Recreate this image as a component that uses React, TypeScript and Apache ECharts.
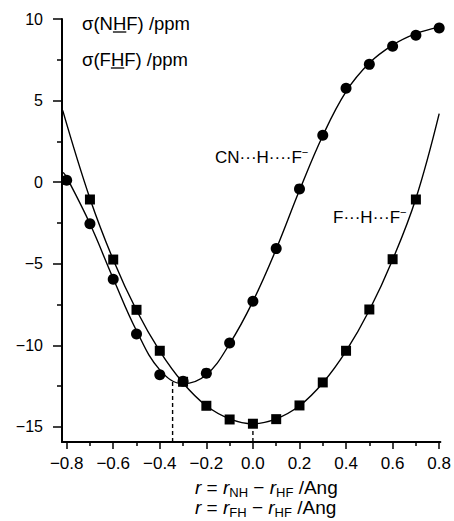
import React, { useEffect, useRef } from 'react';
import * as echarts from 'echarts';

const FONT = '"Liberation Sans", Arial, Helvetica, sans-serif';

// Data points: sigma(NHF) (circles) for CN...H...F-
const xNHF = [-0.8, -0.7, -0.6, -0.5, -0.4, -0.3, -0.2, -0.1, 0.0, 0.1, 0.2, 0.3, 0.4, 0.5, 0.6, 0.7, 0.8];
const yNHF = [0.12, -2.55, -5.95, -9.3, -11.8, -12.2, -11.7, -9.85, -7.3, -4.07, -0.41, 2.88, 5.75, 7.22, 8.33, 9.0, 9.45];

// Data points: sigma(FHF) (squares) for F...H...F-
const xFHF = [-0.7, -0.6, -0.5, -0.4, -0.3, -0.2, -0.1, 0.0, 0.1, 0.2, 0.3, 0.4, 0.5, 0.6, 0.7];
const yFHF = [-1.06, -4.74, -7.82, -10.33, -12.23, -13.7, -14.54, -14.8, -14.52, -13.68, -12.27, -10.33, -7.8, -4.72, -1.06];

// Fitted curves
const curveNHFx = [-0.815, -0.8, -0.7, -0.6, -0.5, -0.4, -0.3, -0.2, -0.1, 0.0, 0.1, 0.2, 0.3, 0.4, 0.5, 0.6, 0.7, 0.8];
const curveNHFy = [0.6, 0.3, -2.55, -5.9, -9.1, -11.5, -12.35, -11.8, -9.9, -7.3, -4.1, -0.5, 2.85, 5.55, 7.3, 8.4, 9.1, 9.5];
const curveFHFx = [-0.817, -0.7, -0.6, -0.5, -0.4, -0.3, -0.2, -0.1, 0.0, 0.1, 0.2, 0.3, 0.4, 0.5, 0.6, 0.7, 0.8];
const curveFHFy = [4.4, -1.0, -4.75, -7.85, -10.35, -12.3, -13.7, -14.5, -14.8, -14.5, -13.7, -12.3, -10.35, -7.85, -4.75, -1.0, 4.2];

// Dashed drop lines (x position, top value)
const dropX = [-0.345, 0.0];
const dropTop = [-12.2, -14.8];

// Axes
const X_MIN = -0.82;
const X_MAX = 0.805;
const Y_MIN = -15.92;
const Y_MAX = 10;
const xMajorTicks = [-0.8, -0.6, -0.4, -0.2, 0.0, 0.2, 0.4, 0.6, 0.8];
const xMinorTicks = [-0.7, -0.5, -0.3, -0.1, 0.1, 0.3, 0.5, 0.7];
const yMajorTicks = [-15, -10, -5, 0, 5, 10];
const yMinorTicks = [-12.5, -7.5, -2.5, 2.5, 7.5];

const legendTexts = [
  { pre: 'σ(N', h: 'H', post: 'F) /ppm' },
  { pre: 'σ(F', h: 'H', post: 'F) /ppm' },
];

const zip = (xs: number[], ys: number[]) => xs.map((x, i) => [x, ys[i]]);
const minus = (s: string) => s.replace('-', '−');

function measure(text: string, size: number): number {
  const c = document.createElement('canvas').getContext('2d');
  if (!c) return text.length * size * 0.55;
  c.font = `${size}px "Liberation Sans"`;
  return c.measureText(text).width;
}

export default function App() {
  const ref = useRef<HTMLDivElement>(null);
  useEffect(() => {
    const chart = echarts.init(ref.current!, null, { renderer: 'svg' });
    const LS = 18.5;
    const legendX = 82;
    const legendY = [23.5, 59.5];
    const graphics: any[] = [];
    legendTexts.forEach((t, i) => {
      const full = t.pre + t.h + t.post;
      graphics.push({
        type: 'text',
        x: legendX,
        y: legendY[i],
        style: { text: full, fontSize: LS, fontFamily: FONT, fill: '#000', verticalAlign: 'middle', align: 'left' },
      });
      const w0 = measure(t.pre, LS);
      const w1 = measure(t.h, LS);
      graphics.push({
        type: 'line',
        shape: { x1: legendX + w0, y1: legendY[i] + 8.5, x2: legendX + w0 + w1, y2: legendY[i] + 8.5 },
        style: { stroke: '#000', lineWidth: 1.3 },
      });
    });
    const TS = 19;
    const richTitle = {
      i: { fontStyle: 'italic', fontSize: TS, fontFamily: FONT, lineHeight: 24, verticalAlign: 'middle' },
      n: { fontSize: TS, fontFamily: FONT, lineHeight: 24, verticalAlign: 'middle' },
      s: { fontSize: 13, fontFamily: FONT, lineHeight: 13, verticalAlign: 'bottom' },
    };
    const richNote = {
      n: { fontSize: 17, fontFamily: FONT, lineHeight: 22, verticalAlign: 'middle' },
      u: { fontSize: 11, fontFamily: FONT, lineHeight: 11, verticalAlign: 'top' },
    };
    graphics.push({
      type: 'text',
      x: 195,
      y: 487,
      style: {
        text: '{i|r}{n| = }{i|r}{s|NH}{n| − }{i|r}{s|HF}{n| /Ang}',
        rich: richTitle,
        verticalAlign: 'middle',
        align: 'left',
        fill: '#000',
      },
    });
    graphics.push({
      type: 'text',
      x: 195,
      y: 507,
      style: {
        text: '{i|r}{n| = }{i|r}{s|FH}{n| − }{i|r}{s|HF}{n| /Ang}',
        rich: richTitle,
        verticalAlign: 'middle',
        align: 'left',
        fill: '#000',
      },
    });
    graphics.push({
      type: 'text',
      x: 215,
      y: 157,
      style: {
        text: '{n|CN···H····F}{u|−}',
        rich: richNote,
        verticalAlign: 'middle',
        align: 'left',
        fill: '#000',
      },
    });
    graphics.push({
      type: 'text',
      x: 333,
      y: 217,
      style: {
        text: '{n|F···H···F}{u|−}',
        rich: richNote,
        verticalAlign: 'middle',
        align: 'left',
        fill: '#000',
      },
    });

    const axisLineStyle = { color: '#000', width: 2 };
    const option: any = {
      animation: false,
      backgroundColor: '#fff',
      grid: { left: 62, right: 10, top: 19, bottom: 79, containLabel: false },
      xAxis: [
        {
          type: 'value',
          min: X_MIN,
          max: X_MAX,
          position: 'bottom',
          axisLine: { show: true, onZero: false, lineStyle: axisLineStyle },
          axisTick: { show: true, inside: false, length: 7, customValues: xMajorTicks, lineStyle: { color: '#000', width: 1.5 } },
          axisLabel: {
            show: true,
            customValues: xMajorTicks,
            margin: 13,
            fontSize: 17,
            fontFamily: FONT,
            color: '#000',
            formatter: (v: number) => minus(v.toFixed(1)),
          },
          splitLine: { show: false },
        },
        {
          type: 'value',
          min: X_MIN,
          max: X_MAX,
          position: 'bottom',
          axisLine: { show: false, onZero: false },
          axisTick: { show: true, inside: false, length: 4, customValues: xMinorTicks, lineStyle: { color: '#000', width: 1.5 } },
          axisLabel: { show: false },
          splitLine: { show: false },
        },
      ],
      yAxis: [
        {
          type: 'value',
          min: Y_MIN,
          max: Y_MAX,
          position: 'left',
          axisLine: { show: true, onZero: false, lineStyle: axisLineStyle },
          axisTick: { show: true, inside: false, length: 9, customValues: yMajorTicks, lineStyle: { color: '#000', width: 1.5 } },
          axisLabel: {
            show: true,
            customValues: yMajorTicks,
            margin: 19,
            fontSize: 16,
            fontFamily: FONT,
            color: '#000',
            formatter: (v: number) => minus(String(v)),
          },
          splitLine: { show: false },
        },
        {
          type: 'value',
          min: Y_MIN,
          max: Y_MAX,
          position: 'left',
          axisLine: { show: false, onZero: false },
          axisTick: { show: true, inside: false, length: 5, customValues: yMinorTicks, lineStyle: { color: '#000', width: 1.5 } },
          axisLabel: { show: false },
          splitLine: { show: false },
        },
      ],
      series: [
        {
          type: 'line',
          data: zip(curveNHFx, curveNHFy),
          smooth: 0.4,
          showSymbol: false,
          lineStyle: { color: '#000', width: 1.4 },
          z: 2,
        },
        {
          type: 'line',
          data: zip(curveFHFx, curveFHFy),
          smooth: 0.4,
          showSymbol: false,
          lineStyle: { color: '#000', width: 1.4 },
          z: 2,
        },
        ...dropX.map((x, i) => ({
          type: 'line',
          data: [
            [x, Y_MIN],
            [x, dropTop[i]],
          ],
          showSymbol: false,
          lineStyle: { color: '#000', width: 1.4, type: [4, 3] },
          z: 1,
        })),
        {
          type: 'scatter',
          data: zip(xNHF, yNHF),
          symbol: 'circle',
          symbolSize: 11,
          itemStyle: { color: '#000', opacity: 1 },
          z: 5,
        },
        {
          type: 'scatter',
          data: zip(xFHF, yFHF),
          symbol: 'rect',
          symbolSize: 10,
          itemStyle: { color: '#000', opacity: 1 },
          z: 5,
        },
      ],
      graphic: graphics,
    };
    chart.setOption(option);
    return () => chart.dispose();
  }, []);
  return <div ref={ref} style={{ position: 'fixed', left: 0, top: 0, width: 454, height: 521 }} />;
}
